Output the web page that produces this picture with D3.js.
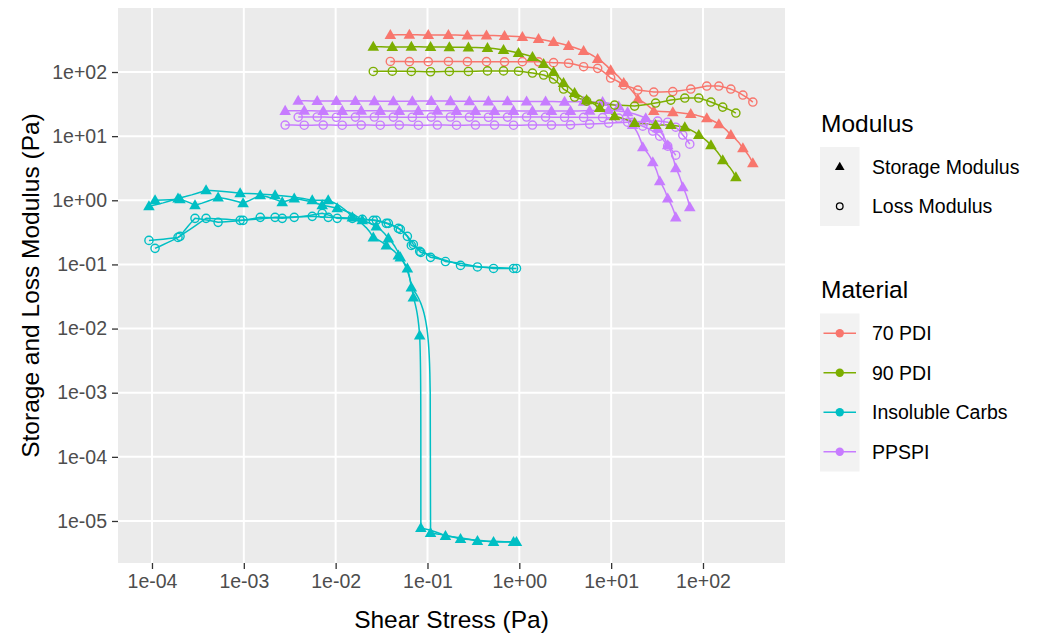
<!DOCTYPE html>
<html>
<head>
<meta charset="utf-8">
<script src="https://cdn.jsdelivr.net/npm/d3@7"></script>
<style>
  body { margin: 0; background: #ffffff; }
  text { font-family: "Liberation Sans", Arial, sans-serif; }
</style>
</head>
<body>
<svg id="chart" width="1048" height="637"></svg>
<script>
// ---- Amplitude sweep data: shear stress (Pa) vs storage / loss modulus (Pa) ----

// PPSPI, run 1
const ppspi1Stress  = [0.00391, 0.00630, 0.0102, 0.0164, 0.0264, 0.0425, 0.0684, 0.110, 0.178, 0.286, 0.461, 0.743, 1.20, 1.93, 3.11, 5.01, 8.07, 12.1, 17.1, 22.1, 28.4, 33.8, 41.3, 50.5];
const ppspi1Storage = [35.6, 35.4, 35.3, 35.5, 35.2, 35.0, 35.1, 35.3, 35.2, 35.0, 34.9, 35.1, 34.8, 34.6, 34.5, 34.3, 34.0, 29.4, 14.9, 6.73, 3.93, 1.98, 1.07, 0.542];
const ppspi1Loss    = [19.8, 19.9, 19.7, 19.8, 19.9, 19.8, 19.7, 19.8, 19.9, 19.8, 19.7, 19.8, 19.9, 19.8, 19.7, 19.6, 19.5, 19.1, 16.5, 14.3, 12.0, 10.0, 6.98, 5.05];

// PPSPI, run 2
const ppspi2Stress  = [0.00282, 0.00455, 0.00733, 0.0118, 0.0190, 0.0306, 0.0494, 0.0796, 0.128, 0.207, 0.333, 0.537, 0.865, 1.39, 2.24, 3.61, 5.83, 9.40, 15.1, 23.8, 32.1, 41.3, 50.5, 60.3, 71.8];
const ppspi2Storage = [24.8, 24.9, 24.7, 24.8, 24.9, 24.8, 24.7, 24.8, 24.9, 24.8, 24.7, 24.6, 24.8, 24.7, 24.6, 24.7, 24.9, 25.5, 23.7, 19.1, 13.3, 7.23, 3.16, 1.60, 0.778];
const ppspi2Loss    = [14.9, 14.8, 14.9, 14.8, 14.9, 14.8, 14.9, 14.8, 14.9, 14.8, 14.9, 14.9, 14.8, 14.9, 14.9, 15.0, 15.4, 16.0, 16.5, 17.2, 17.2, 16.5, 13.8, 10.4, 7.50];

// Insoluble Carbs, run 1
const carbs1Stress  = [9.27e-5, 1.92e-4, 3.88e-4, 9.12e-4, 2.19e-3, 5.56e-3, 8.30e-3, 1.52e-2, 2.57e-2, 3.56e-2, 4.82e-2, 6.04e-2, 6.67e-2, 0.108, 0.229, 0.524, 0.931];
const carbs1Storage = [0.806, 1.07, 1.43, 1.29, 1.20, 1.00, 1.00, 0.542, 0.264, 0.198, 0.138, 0.0866, 0.0437, 6.49e-6, 5.23e-6, 4.70e-6, 4.70e-6];
const carbs1Loss    = [0.237, 0.264, 0.523, 0.487, 0.542, 0.562, 0.542, 0.523, 0.487, 0.437, 0.365, 0.274, 0.198, 0.129, 0.0965, 0.0866, 0.0866];

// Insoluble Carbs, run 2
const carbs2Stress  = [1.08e-4, 2.02e-4, 2.94e-4, 5.25e-4, 9.82e-4, 1.51e-3, 2.62e-3, 3.54e-3, 7.14e-3, 1.04e-2, 1.95e-2, 2.77e-2, 3.75e-2, 5.06e-2, 7.01e-2, 8.22e-2, 8.47e-2, 0.157, 0.350, 0.865];
const carbs2Storage = [1.00, 1.04, 0.835, 1.11, 0.898, 1.20, 0.931, 1.07, 0.835, 0.750, 0.487, 0.392, 0.255, 0.129, 0.0305, 7.78e-3, 7.78e-6, 5.83e-6, 4.87e-6, 4.70e-6];
const carbs2Loss    = [0.178, 0.274, 0.523, 0.453, 0.487, 0.542, 0.523, 0.542, 0.627, 0.523, 0.505, 0.487, 0.437, 0.352, 0.205, 0.160, 0.154, 0.111, 0.0914, 0.0866];

// 70 PDI
const pdi70Stress  = [0.0394, 0.0635, 0.102, 0.169, 0.272, 0.439, 0.690, 1.08, 1.62, 2.36, 3.44, 5.01, 7.13, 9.88, 13.7, 19.5, 29.1, 46.9, 73.6, 110, 149, 201, 272, 349];
const pdi70Storage = [379, 381, 378, 379, 372, 372, 365, 352, 328, 294, 255, 213, 160, 107, 67.3, 37.8, 24.6, 23.7, 22.1, 19.1, 15.4, 10.4, 6.49, 3.79];
const pdi70Loss    = [146, 145, 145, 146, 145, 145, 144, 145, 144, 140, 137, 121, 114, 80.6, 62.6, 52.3, 48.7, 49.6, 54.2, 60.4, 60.4, 54.2, 43.7, 34.0];

// 90 PDI
const pdi90Stress  = [0.0257, 0.0414, 0.0667, 0.108, 0.173, 0.279, 0.450, 0.673, 0.980, 1.39, 1.84, 2.36, 3.03, 4.00, 5.41, 7.50, 10.9, 18.0, 30.5, 44.6, 63.4, 90.0, 122, 164, 228];
const pdi90Storage = [248, 245, 247, 246, 244, 242, 237, 221, 198, 172, 133, 100, 67.3, 47.0, 36.5, 27.4, 20.5, 16.0, 14.9, 14.9, 13.8, 10.4, 7.23, 4.22, 2.29];
const pdi90Loss    = [102, 103, 102, 101, 102, 102, 104, 104, 103, 96.4, 89.8, 77.8, 54.2, 40.7, 35.2, 31.6, 30.5, 29.4, 32.8, 36.5, 39.3, 39.3, 34.0, 28.4, 22.9];

const materials      = ["70 PDI", "90 PDI", "Insoluble Carbs", "PPSPI"];
const materialColors = ["#F8766D", "#7CAE00", "#00BFC4", "#C77CFF"];
const moduli         = ["Storage Modulus", "Loss Modulus"];
const xTickLabels    = ["1e-04", "1e-03", "1e-02", "1e-01", "1e+00", "1e+01", "1e+02"];
const yTickLabels    = ["1e-05", "1e-04", "1e-03", "1e-02", "1e-01", "1e+00", "1e+01", "1e+02"];

// Axis limits (log10 exponents), including the panel padding around the data
const xLimitsLog = [-4.37, 2.893];
const yLimitsLog = [-5.655, 2.998];

// Runs in drawing order
const runs = [
  { material: "PPSPI",           stress: ppspi1Stress, storage: ppspi1Storage, loss: ppspi1Loss },
  { material: "PPSPI",           stress: ppspi2Stress, storage: ppspi2Storage, loss: ppspi2Loss },
  { material: "Insoluble Carbs", stress: carbs1Stress, storage: carbs1Storage, loss: carbs1Loss },
  { material: "Insoluble Carbs", stress: carbs2Stress, storage: carbs2Storage, loss: carbs2Loss },
  { material: "70 PDI",          stress: pdi70Stress,  storage: pdi70Storage,  loss: pdi70Loss },
  { material: "90 PDI",          stress: pdi90Stress,  storage: pdi90Storage,  loss: pdi90Loss }
];

// Long-format series: one per run and modulus type
const series = [];
runs.forEach(r => {
  series.push({ material: r.material, modulus: "Storage Modulus",
                points: r.stress.map((s, i) => ({ x: s, y: r.storage[i] })) });
  series.push({ material: r.material, modulus: "Loss Modulus",
                points: r.stress.map((s, i) => ({ x: s, y: r.loss[i] })) });
});

// ---- Layout ----
const panel = { left: 118, right: 785, top: 8, bottom: 563 };
const svg = d3.select("#chart");

const color = d3.scaleOrdinal().domain(materials).range(materialColors);
const x = d3.scaleLog().domain(xLimitsLog.map(e => Math.pow(10, e))).range([panel.left, panel.right]);
const y = d3.scaleLog().domain(yLimitsLog.map(e => Math.pow(10, e))).range([panel.bottom, panel.top]);

const xTicks = xTickLabels.map(Number);
const yTicks = yTickLabels.map(Number);

// ---- Panel background and grid ----
svg.append("rect")
  .attr("x", panel.left).attr("y", panel.top)
  .attr("width", panel.right - panel.left).attr("height", panel.bottom - panel.top)
  .attr("fill", "#EBEBEB");

const grid = svg.append("g");
grid.selectAll("line.gx").data(xTicks).join("line")
  .attr("x1", d => x(d)).attr("x2", d => x(d))
  .attr("y1", panel.top).attr("y2", panel.bottom)
  .attr("stroke", "#ffffff").attr("stroke-width", 2);
grid.selectAll("line.gy").data(yTicks).join("line")
  .attr("y1", d => y(d)).attr("y2", d => y(d))
  .attr("x1", panel.left).attr("x2", panel.right)
  .attr("stroke", "#ffffff").attr("stroke-width", 2);

// ---- Axes ----
const fmtX = d => xTickLabels[xTicks.indexOf(d)];
const fmtY = d => yTickLabels[yTicks.indexOf(d)];

const xAxis = svg.append("g")
  .attr("transform", `translate(0,${panel.bottom})`)
  .call(d3.axisBottom(x).tickValues(xTicks).tickFormat(fmtX).tickSize(6).tickPadding(5));
const yAxis = svg.append("g")
  .attr("transform", `translate(${panel.left},0)`)
  .call(d3.axisLeft(y).tickValues(yTicks).tickFormat(fmtY).tickSize(6).tickPadding(5));

[xAxis, yAxis].forEach(a => {
  a.select(".domain").remove();
  a.selectAll(".tick line").attr("stroke", "#333333").attr("stroke-width", 1.3);
  a.selectAll(".tick text").attr("fill", "#4D4D4D")
    .style("font-family", "'Liberation Sans', Arial, sans-serif").style("font-size", "19.5px");
});

svg.append("text")
  .attr("x", (panel.left + panel.right) / 2).attr("y", 628)
  .attr("text-anchor", "middle").attr("fill", "#000")
  .style("font-size", "24.5px")
  .text("Shear Stress (Pa)");

svg.append("text")
  .attr("transform", `translate(39,${(panel.top + panel.bottom) / 2}) rotate(-90)`)
  .attr("text-anchor", "middle").attr("fill", "#000")
  .style("font-size", "24.5px")
  .text("Storage and Loss Modulus (Pa)");

// ---- Lines (straight segments in linear data space, drawn on log axes) ----
function munch(points) {
  const out = [];
  for (let i = 0; i < points.length - 1; i++) {
    const a = points[i], b = points[i + 1];
    const dx = (x(b.x) - x(a.x)) / (panel.right - panel.left);
    const dy = (y(b.y) - y(a.y)) / (panel.bottom - panel.top);
    const n = Math.max(1, Math.ceil(Math.hypot(dx, dy) / 0.01));
    for (let k = 0; k < n; k++) {
      const t = k / n;
      out.push([a.x + (b.x - a.x) * t, a.y + (b.y - a.y) * t]);
    }
  }
  const last = points[points.length - 1];
  out.push([last.x, last.y]);
  return out;
}

const line = d3.line().x(d => x(d[0])).y(d => y(d[1]));
const sortedSeries = series.map(s => ({ ...s, points: [...s.points].sort((a, b) => a.x - b.x) }));

svg.append("g").selectAll("path").data(sortedSeries).join("path")
  .attr("d", s => line(munch(s.points)))
  .attr("fill", "none")
  .attr("stroke", s => color(s.material))
  .attr("stroke-width", 1.5)
  .attr("stroke-linejoin", "round");

// ---- Points ----
const triangle = d3.symbol().type(d3.symbolTriangle).size(58);
const pts = svg.append("g");
sortedSeries.forEach(s => {
  const g = pts.append("g");
  if (s.modulus === "Storage Modulus") {
    g.selectAll("path").data(s.points).join("path")
      .attr("transform", d => `translate(${x(d.x)},${y(d.y) + 0.7})`)
      .attr("d", triangle)
      .attr("fill", color(s.material));
  } else {
    g.selectAll("circle").data(s.points).join("circle")
      .attr("cx", d => x(d.x)).attr("cy", d => y(d.y)).attr("r", 4.1)
      .attr("fill", "none")
      .attr("stroke", color(s.material)).attr("stroke-width", 1.4);
  }
});

// ---- Legends ----
const legend = svg.append("g");
const keyX = 820, keyW = 39.5, keyH = 39.5, labelX = 872;

// Modulus (shape)
legend.append("text").attr("x", 821).attr("y", 132)
  .style("font-size", "24.5px").attr("fill", "#000").text("Modulus");
const modTop = 147;
legend.append("rect").attr("x", keyX).attr("y", modTop)
  .attr("width", keyW).attr("height", keyH * moduli.length).attr("fill", "#F2F2F2");
moduli.forEach((m, i) => {
  const cy = modTop + keyH * i + keyH / 2;
  if (m === "Storage Modulus") {
    legend.append("path").attr("d", d3.symbol().type(d3.symbolTriangle).size(40)())
      .attr("transform", `translate(${keyX + keyW / 2},${cy + 0.5})`).attr("fill", "#000");
  } else {
    legend.append("circle").attr("cx", keyX + keyW / 2).attr("cy", cy).attr("r", 3.3)
      .attr("fill", "none").attr("stroke", "#000").attr("stroke-width", 1.3);
  }
  legend.append("text").attr("x", labelX).attr("y", cy).attr("dy", "0.35em")
    .style("font-size", "19.5px").attr("fill", "#000").text(m);
});

// Material (colour)
legend.append("text").attr("x", 821).attr("y", 298)
  .style("font-size", "24.5px").attr("fill", "#000").text("Material");
const matTop = 313.5;
legend.append("rect").attr("x", keyX).attr("y", matTop)
  .attr("width", keyW).attr("height", keyH * materials.length).attr("fill", "#F2F2F2");
materials.forEach((m, i) => {
  const cy = matTop + keyH * i + keyH / 2;
  legend.append("line").attr("x1", keyX + 3.5).attr("x2", keyX + keyW - 3.5)
    .attr("y1", cy).attr("y2", cy).attr("stroke", color(m)).attr("stroke-width", 1.5);
  legend.append("circle").attr("cx", keyX + keyW / 2).attr("cy", cy).attr("r", 4.2)
    .attr("fill", color(m));
  legend.append("text").attr("x", labelX).attr("y", cy).attr("dy", "0.35em")
    .style("font-size", "19.5px").attr("fill", "#000").text(m);
});
</script>
</body>
</html>
